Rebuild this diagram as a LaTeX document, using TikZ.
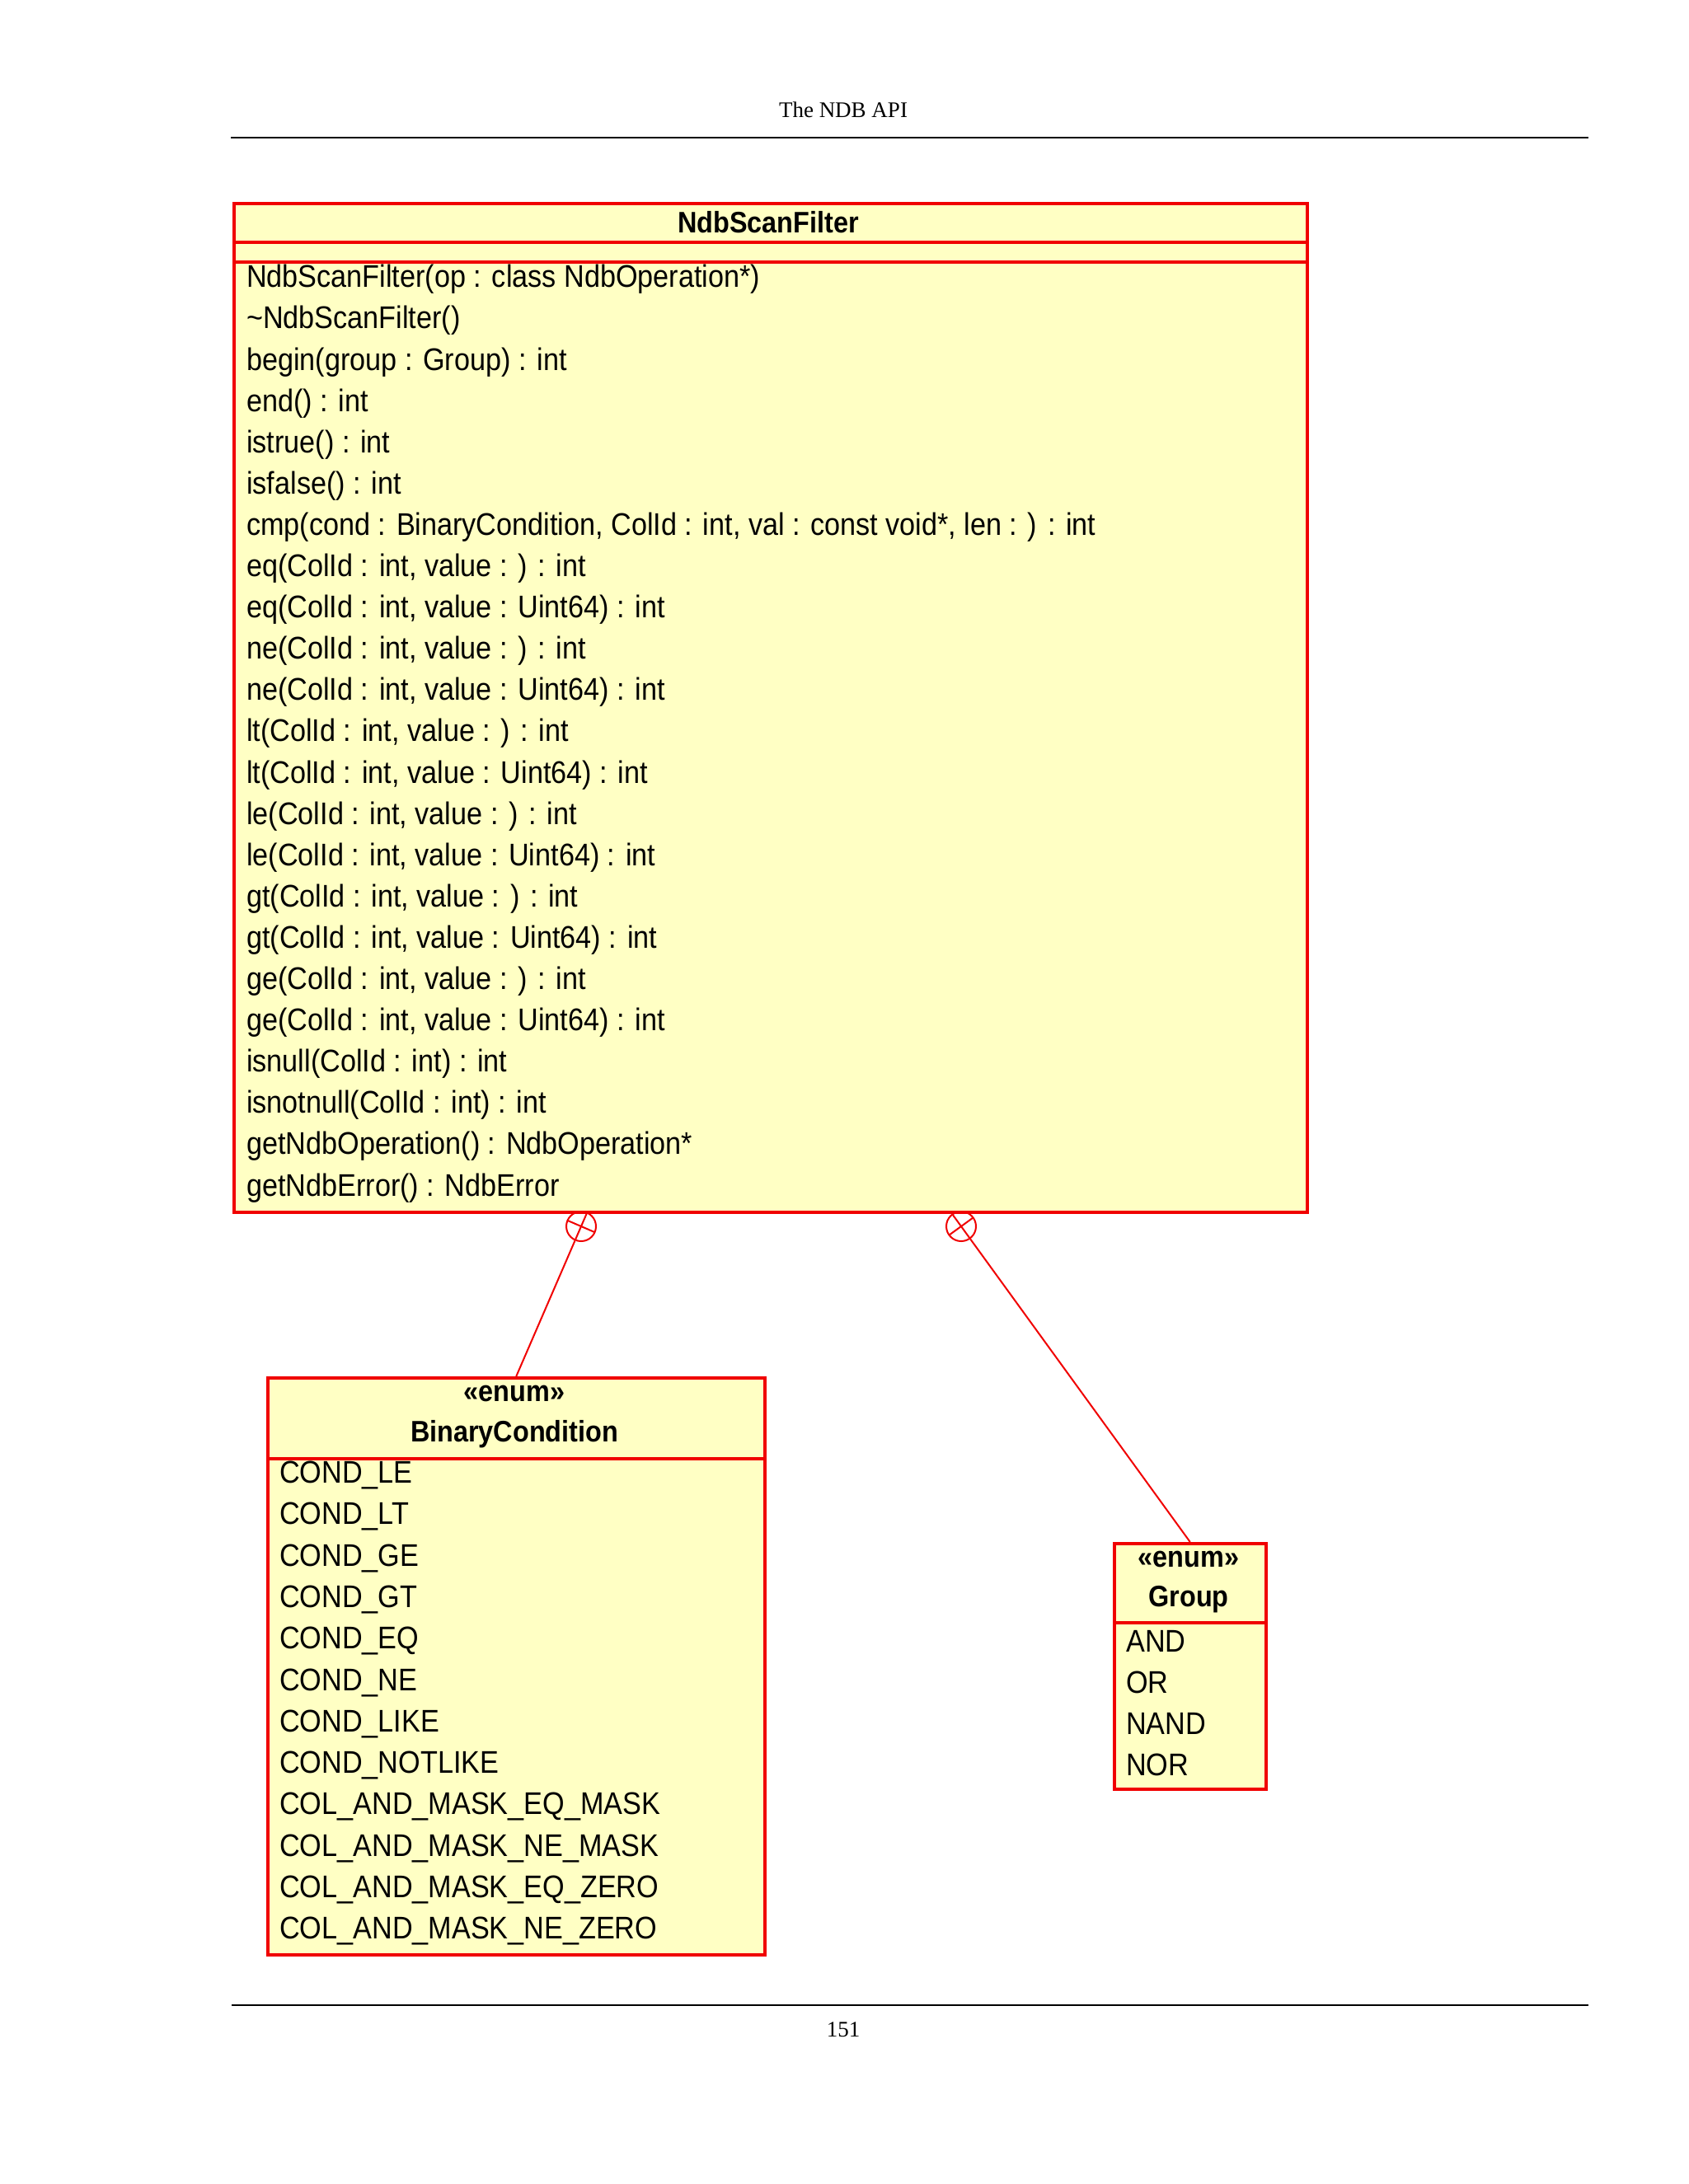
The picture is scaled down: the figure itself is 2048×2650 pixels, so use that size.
\documentclass[tikz,border=0pt]{standalone}
\usepackage{fontspec}
\setmainfont{Liberation Serif}
\newfontfamily\uml[FakeStretch=0.9]{Liberation Sans}
\usetikzlibrary{calc}
\definecolor{umlred}{RGB}{240,0,0}
\definecolor{umlfill}{RGB}{255,255,196}
\tikzset{
  box/.style={draw=umlred,fill=umlfill,line width=3.5pt},
  sep/.style={draw=umlred,line width=3.5pt},
  item/.style={anchor=west,inner sep=0pt,font=\uml\fontsize{38}{40}\selectfont},
  bold/.style={inner sep=0pt,font=\uml\bfseries\fontsize{36}{40}\selectfont},
  nest/.style={circle,draw=umlred,line width=2pt,minimum size=36pt,inner sep=0pt},
  link/.style={draw=umlred,line width=2pt},
  rule/.style={draw=black,line width=2pt},
  page/.style={font=\fontsize{27}{30}\selectfont,inner sep=0pt}
}
\begin{document}
\begin{tikzpicture}[x=1pt,y=-1pt]
\useasboundingbox (0,0) rectangle (2048,2650);
% page header / footer
\node[page] (hdr) at (1023,133) {The NDB API};
\coordinate (hl) at (280,167); \coordinate (hr) at (1927,167);
\draw[rule] (hl) -- (hr);
\coordinate (fl) at (281,2433); \coordinate (fr) at (1927,2433);
\draw[rule] (fl) -- (fr);
\node[page] (pno) at (1023,2463) {151};
% main class
\node[box,minimum width=1302pt,minimum height=1224pt,anchor=north west] (nsf) at (282,245) {};
\coordinate (s1l) at (282,294); \coordinate (s1r) at (1584,294);
\coordinate (s2l) at (282,318); \coordinate (s2r) at (1584,318);
\draw[sep] (s1l) -- (s1r); \draw[sep] (s2l) -- (s2r);
\node[bold] (nsft) at (932,270) {NdbScanFilter};
\foreach \t [count=\i from 0] in {
 {NdbScanFilter(op : class NdbOperation*)},
 {\textasciitilde NdbScanFilter()},
 {begin(group : Group) : int},
 {end() : int},
 {istrue() : int},
 {isfalse() : int},
 {cmp(cond : BinaryCondition, ColId : int, val : const void*, len : ) : int},
 {eq(ColId : int, value : ) : int},
 {eq(ColId : int, value : Uint64) : int},
 {ne(ColId : int, value : ) : int},
 {ne(ColId : int, value : Uint64) : int},
 {lt(ColId : int, value : ) : int},
 {lt(ColId : int, value : Uint64) : int},
 {le(ColId : int, value : ) : int},
 {le(ColId : int, value : Uint64) : int},
 {gt(ColId : int, value : ) : int},
 {gt(ColId : int, value : Uint64) : int},
 {ge(ColId : int, value : ) : int},
 {ge(ColId : int, value : Uint64) : int},
 {isnull(ColId : int) : int},
 {isnotnull(ColId : int) : int},
 {getNdbOperation() : NdbOperation*},
 {getNdbError() : NdbError}}
 \node[item] (op\i) at (299,339+50.1*\i) {\t};
% BinaryCondition
\node[box,minimum width=603pt,minimum height=700pt,anchor=north west] (bc) at (323,1670) {};
\coordinate (s3l) at (323,1770); \coordinate (s3r) at (926,1770);
\draw[sep] (s3l) -- (s3r);
\node[bold] (bcs) at (624,1691) {«enum»};
\node[bold] (bct) at (624,1740) {BinaryCondition};
\foreach \t [count=\i from 0] in {COND\_LE,COND\_LT,COND\_GE,COND\_GT,COND\_EQ,COND\_NE,COND\_LIKE,COND\_NOTLIKE,COL\_AND\_MASK\_EQ\_MASK,COL\_AND\_MASK\_NE\_MASK,COL\_AND\_MASK\_EQ\_ZERO,COL\_AND\_MASK\_NE\_ZERO}
 \node[item] (bc\i) at (339,1790+50.3*\i) {\t};
% Group
\node[box,minimum width=184pt,minimum height=298pt,anchor=north west] (gr) at (1350,1871) {};
\coordinate (s4l) at (1350,1969); \coordinate (s4r) at (1534,1969);
\draw[sep] (s4l) -- (s4r);
\node[bold] (grs) at (1442,1892) {«enum»};
\node[bold] (grt) at (1442,1941) {Group};
\foreach \t [count=\i from 0] in {AND,OR,NAND,NOR}
 \node[item] (gr\i) at (1366,1991+50*\i) {\t};
% nesting connectors
\coordinate (c1) at (705,1488);
\coordinate (c2) at (1166,1488);
\node[nest] (n1) at (c1) {};
\node[nest] (n2) at (c2) {};
\draw[link] (n1) -- (bc.north);
\draw[link] (n2) -- (gr.north);
\draw[link] ($(c1)!18pt!(bc.north)$) -- ($(c1)!-18pt!(bc.north)$);
\draw[link] ($(c1)!18pt!90:(bc.north)$) -- ($(c1)!18pt!-90:(bc.north)$);
\draw[link] ($(c2)!18pt!(gr.north)$) -- ($(c2)!-18pt!(gr.north)$);
\draw[link] ($(c2)!18pt!90:(gr.north)$) -- ($(c2)!18pt!-90:(gr.north)$);
\end{tikzpicture}
\end{document}
